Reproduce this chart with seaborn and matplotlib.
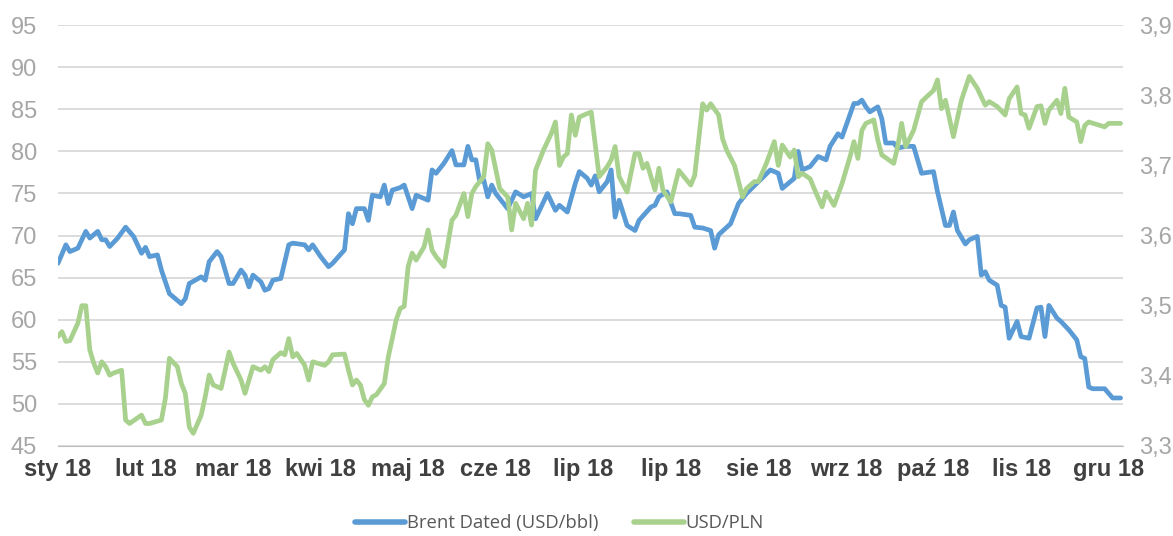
import pandas as pd
import matplotlib
matplotlib.use("Agg")
import matplotlib.pyplot as plt
import seaborn as sns
from matplotlib.lines import Line2D
from matplotlib.ticker import FuncFormatter

# trading-day index (from 2 Jan 2018) and values
brent_day = [0, 2, 3, 5, 7, 8, 10, 11, 12, 13, 15, 17, 19, 21, 22, 23, 25, 26, 28, 31,
             32, 33, 36, 37, 38, 40, 41, 43, 44, 46, 47, 48, 49, 51, 52, 53, 54, 56, 58, 59,
             62, 63, 64, 66, 68, 69, 72, 73, 74, 75, 77, 78, 79, 81, 82, 83, 84, 86, 87, 88,
             89, 90, 93, 94, 95, 97, 99, 100, 102, 103, 104, 105, 106, 107, 108, 109, 110, 113, 115, 117,
             119, 120, 123, 125, 126, 128, 130, 131, 133, 134, 135, 136, 138, 139, 140, 141, 143, 145, 146, 149,
             150, 151, 153, 155, 156, 159, 160, 162, 164, 165, 166, 169, 171, 173, 176, 179, 181, 182, 185, 186,
             187, 189, 191, 193, 194, 196, 197, 200, 201, 202, 203, 204, 206, 207, 208, 210, 211, 213, 215, 217,
             220, 221, 223, 224, 225, 226, 228, 229, 231, 232, 233, 234, 236, 237, 238, 239, 241, 242, 244, 246,
             247, 248, 249, 251, 252, 254, 256, 257, 258, 259, 260, 263, 265, 267]
brent = [66.7, 68.9, 68.1, 68.5, 70.5, 69.7, 70.5, 69.5, 69.5, 68.7, 69.7, 71.0, 69.9, 67.9, 68.6, 67.5, 67.7, 65.9, 63.1, 61.9,
         62.5, 64.3, 65.1, 64.7, 66.9, 68.1, 67.5, 64.3, 64.3, 65.9, 65.3, 63.9, 65.3, 64.5, 63.5, 63.7, 64.7, 64.9, 68.9, 69.1,
         68.9, 68.3, 68.9, 67.5, 66.3, 66.7, 68.3, 72.6, 71.4, 73.2, 73.2, 71.8, 74.8, 74.6, 76.0, 73.8, 75.4, 75.7, 76.0, 74.6,
         73.2, 74.8, 74.2, 77.8, 77.4, 78.6, 80.1, 78.4, 78.4, 80.6, 79.0, 79.0, 76.4, 76.6, 74.6, 76.0, 75.0, 73.2, 75.2, 74.6,
         75.0, 72.0, 75.0, 73.0, 73.6, 72.8, 76.2, 77.6, 76.8, 76.0, 77.1, 75.2, 76.4, 77.8, 72.2, 74.2, 71.2, 70.6, 71.8, 73.4,
         73.6, 74.6, 75.2, 72.6, 72.6, 72.4, 71.0, 70.9, 70.6, 68.5, 70.1, 71.4, 73.8, 75.0, 76.4, 77.8, 77.4, 75.6, 76.8, 80.0,
         77.8, 78.2, 79.4, 79.0, 80.6, 82.1, 81.7, 85.7, 85.7, 86.1, 85.3, 84.7, 85.3, 83.9, 81.0, 81.0, 80.4, 80.6, 80.6, 77.4,
         77.6, 75.2, 71.2, 71.2, 72.8, 70.6, 69.0, 69.5, 69.9, 65.3, 65.7, 64.7, 64.1, 61.7, 61.5, 57.8, 59.8, 58.0, 57.8, 61.4,
         61.5, 58.0, 61.7, 60.2, 59.8, 58.8, 57.6, 55.6, 55.4, 52.0, 51.8, 51.8, 50.7, 50.7]

pln_day = [0, 1, 2, 3, 5, 6, 7, 8, 9, 10, 11, 12, 13, 14, 16, 17, 18, 21, 22, 23,
           26, 27, 28, 30, 31, 32, 33, 34, 36, 37, 38, 39, 41, 43, 44, 46, 47, 49, 51, 52,
           53, 54, 56, 57, 58, 59, 60, 62, 63, 64, 67, 68, 69, 72, 73, 74, 75, 76, 77, 78,
           79, 80, 82, 83, 84, 85, 86, 87, 88, 89, 90, 92, 93, 94, 95, 97, 99, 100, 102, 103,
           104, 105, 107, 108, 109, 111, 113, 114, 115, 117, 118, 119, 120, 122, 124, 125, 126, 127, 128, 129,
           130, 131, 133, 134, 136, 138, 139, 140, 141, 143, 145, 146, 147, 148, 150, 151, 152, 154, 156, 159,
           160, 162, 163, 164, 166, 167, 168, 170, 172, 173, 175, 176, 178, 180, 181, 182, 184, 185, 186, 187,
           189, 190, 192, 193, 195, 197, 199, 200, 201, 202, 203, 205, 206, 207, 210, 211, 212, 213, 215, 217,
           220, 221, 222, 223, 225, 227, 229, 231, 233, 234, 236, 238, 239, 241, 242, 243, 244, 246, 247, 248,
           249, 251, 252, 253, 254, 256, 257, 258, 259, 263, 264, 267]
usdpln = [3.456, 3.463, 3.449, 3.450, 3.475, 3.500, 3.500, 3.437, 3.418, 3.404, 3.420, 3.413, 3.401, 3.404, 3.408, 3.337, 3.332, 3.344, 3.332, 3.332,
          3.337, 3.368, 3.425, 3.413, 3.389, 3.375, 3.327, 3.318, 3.344, 3.370, 3.401, 3.387, 3.382, 3.434, 3.418, 3.394, 3.375, 3.413, 3.408, 3.413,
          3.406, 3.423, 3.433, 3.430, 3.453, 3.427, 3.432, 3.415, 3.394, 3.420, 3.415, 3.420, 3.430, 3.431, 3.408, 3.387, 3.394, 3.387, 3.366, 3.358,
          3.370, 3.373, 3.389, 3.427, 3.453, 3.480, 3.496, 3.499, 3.556, 3.575, 3.565, 3.584, 3.608, 3.579, 3.570, 3.556, 3.622, 3.629, 3.660, 3.627,
          3.660, 3.670, 3.684, 3.731, 3.722, 3.667, 3.655, 3.608, 3.646, 3.624, 3.646, 3.615, 3.693, 3.722, 3.746, 3.762, 3.700, 3.712, 3.717, 3.772,
          3.743, 3.769, 3.774, 3.776, 3.684, 3.698, 3.708, 3.727, 3.684, 3.662, 3.717, 3.717, 3.696, 3.703, 3.665, 3.696, 3.665, 3.648, 3.693, 3.672,
          3.686, 3.788, 3.779, 3.788, 3.772, 3.738, 3.722, 3.700, 3.655, 3.667, 3.677, 3.677, 3.703, 3.734, 3.700, 3.729, 3.712, 3.722, 3.684, 3.689,
          3.681, 3.667, 3.641, 3.662, 3.643, 3.674, 3.712, 3.734, 3.710, 3.750, 3.760, 3.765, 3.736, 3.715, 3.703, 3.727, 3.760, 3.727, 3.750, 3.791,
          3.807, 3.822, 3.781, 3.793, 3.741, 3.793, 3.827, 3.810, 3.786, 3.791, 3.784, 3.772, 3.795, 3.812, 3.774, 3.772, 3.753, 3.784, 3.785, 3.760,
          3.779, 3.793, 3.774, 3.810, 3.769, 3.762, 3.734, 3.757, 3.762, 3.755, 3.760, 3.760]

tick_days = [0, 22, 44, 66, 88, 110, 132, 154, 176, 198, 220, 242, 264]
tick_labels = ["sty 18", "lut 18", "mar 18", "kwi 18", "maj 18", "cze 18", "lip 18",
               "lip 18", "sie 18", "wrz 18", "paź 18", "lis 18", "gru 18"]

df_brent = pd.DataFrame({"day": brent_day, "value": brent})
df_pln = pd.DataFrame({"day": pln_day, "value": usdpln})

BLUE = "#5B9BD5"
GREEN = "#A9D18E"
GRID = "#D9D9D9"

sns.set_style("white")
plt.rcParams["font.family"] = ["Liberation Sans", "DejaVu Sans"]

fig = plt.figure(figsize=(11.73, 5.36), dpi=100)
ax = fig.add_axes([0.0494, 0.168, 0.9076, 0.785])
ax2 = ax.twinx()

sns.lineplot(data=df_brent, x="day", y="value", ax=ax, color=BLUE, linewidth=3.4,
             estimator=None, zorder=3)
sns.lineplot(data=df_pln, x="day", y="value", ax=ax2, color=GREEN, linewidth=3.4,
             estimator=None, zorder=3)

ax.set_xlim(0, 267.5)
ax.set_ylim(45, 95)
ax.set_yticks(range(45, 96, 5))
ax2.set_ylim(3.3, 3.9)
ax2.set_yticks([3.3, 3.4, 3.5, 3.6, 3.7, 3.8, 3.9])
ax2.yaxis.set_major_formatter(FuncFormatter(lambda v, p: f"{v:.1f}".replace(".", ",")))

ax.grid(axis="y", color=GRID, linewidth=1.3)
ax.set_axisbelow(True)
ax2.grid(False)

ax.set_xticks(tick_days)
ax.set_xticklabels(tick_labels, fontsize=17, fontweight="bold", color="#404040")
ax.tick_params(axis="x", length=6, width=1, color="#BFBFBF", pad=3)
ax.tick_params(axis="y", length=0, labelsize=17, labelcolor="#A6A6A6", pad=15)
ax2.tick_params(axis="y", length=0, labelsize=17, labelcolor="#A6A6A6", pad=12)

for a in (ax, ax2):
    for s in ("top", "left", "right"):
        a.spines[s].set_visible(False)
    a.spines["bottom"].set_color("#BFBFBF")
    a.set_xlabel("")
    a.set_ylabel("")
ax2.spines["bottom"].set_visible(False)

handles = [Line2D([0], [0], color=BLUE, linewidth=4),
           Line2D([0], [0], color=GREEN, linewidth=4)]
leg = fig.legend(handles, ["Brent Dated (USD/bbl)", "USD/PLN"], loc="center",
                 bbox_to_anchor=(0.477, 0.024), ncol=2, frameon=False,
                 handlelength=2.7, handletextpad=0.1, columnspacing=1.9,
                 prop={"family": ["Open Sans", "DejaVu Sans"], "size": 13.3})
for t in leg.get_texts():
    t.set_color("#595959")

fig.savefig("out.png", dpi=100)
